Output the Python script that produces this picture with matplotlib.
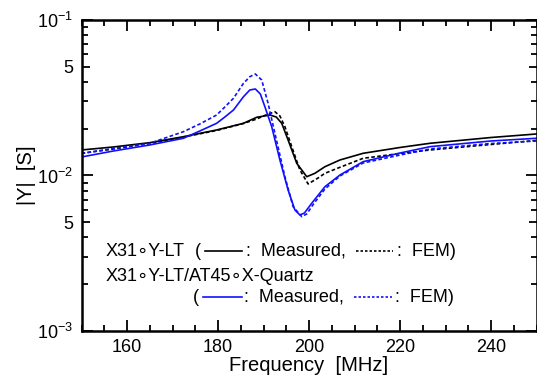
import numpy as np
import matplotlib
matplotlib.use("Agg")
import matplotlib.pyplot as plt
from matplotlib.ticker import FixedLocator, FixedFormatter

plt.rcParams["font.family"] = ["Liberation Sans", "DejaVu Sans"]
plt.rcParams["mathtext.fontset"] = "custom"
plt.rcParams["mathtext.rm"] = "Liberation Sans"
plt.rcParams["mathtext.it"] = "Liberation Sans:italic"

# |Y| (S)
freq_lt_meas = [150, 157, 165, 172.4, 179.7, 185.6, 188.5, 191.4, 192.8, 194, 195.4,
                197.3, 199.5, 201.3, 203.5, 206.8, 211.9, 220, 226.6, 240, 250]
y_lt_meas = [0.01459, 0.01525, 0.01626, 0.01776, 0.01962, 0.02166, 0.02367, 0.02449,
             0.02377, 0.02166, 0.01692, 0.01198, 0.00982, 0.01033, 0.01139, 0.01258,
             0.01389, 0.01514, 0.01611, 0.01755, 0.01849]

freq_lt_fem = [150, 157, 165, 172.4, 179.7, 185.6, 188.5, 190.5, 192.5, 193.6, 194.7,
               196.2, 198, 199.8, 202, 203.5, 206.8, 211.9, 220, 226.6, 240, 250]
y_lt_fem = [0.01389, 0.01480, 0.01606, 0.01768, 0.01947, 0.02160, 0.02308, 0.02449,
            0.02572, 0.02413, 0.02060, 0.01532, 0.01085, 0.00882, 0.00964, 0.01033,
            0.01129, 0.01290, 0.01385, 0.01459, 0.01583, 0.01680]

freq_q_meas = [150, 157, 165, 172.4, 176, 179.7, 181.5, 183.4, 185.6, 187, 188.2, 189.3,
               190.3, 191.8, 193.6, 195.4, 196.9, 198, 199, 200.6, 203.5, 206.8, 211.9,
               220, 226.6, 240, 250]
y_q_meas = [0.01315, 0.01437, 0.01571, 0.01735, 0.01932, 0.02166, 0.02377, 0.02637,
            0.03212, 0.03547, 0.03600, 0.03343, 0.02769, 0.02060, 0.01258, 0.00807,
            0.00600, 0.00557, 0.00574, 0.00663, 0.00847, 0.01007, 0.01227, 0.01395,
            0.01532, 0.01667, 0.01735]

freq_q_fem = [150, 157, 165, 172.4, 176, 179.7, 181.5, 183.4, 185.6, 187, 188.2, 189.6,
              191, 192.5, 194.7, 196.5, 198.4, 199.5, 201, 203.5, 206.8, 211.9, 220,
              226.6, 240, 250]
y_q_fem = [0.01385, 0.01491, 0.01611, 0.01913, 0.02144, 0.02449, 0.02757, 0.03137,
           0.03916, 0.04319, 0.04494, 0.04113, 0.02912, 0.01868, 0.00982, 0.00630,
           0.00543, 0.00566, 0.00656, 0.00819, 0.00993, 0.01203, 0.01354, 0.01480,
           0.01606, 0.01667]

x_ticks = [160, 180, 200, 220, 240]
y_major = [1e-3, 5e-3, 1e-2, 5e-2, 1e-1]
y_major_labels = [r"$\mathregular{10^{-3}}$", "5", r"$\mathregular{10^{-2}}$", "5",
                  r"$\mathregular{10^{-1}}$"]

fig = plt.figure(figsize=(5.37, 3.80), dpi=100)
ax = fig.add_axes([0.1518, 0.129, 0.8473, 0.8184])

lw = 1.2
dash = (0, (2.2, 1.4))
ax.plot(freq_lt_meas, y_lt_meas, color="black", lw=lw)
ax.plot(freq_lt_fem, y_lt_fem, color="black", lw=lw, linestyle=dash)
ax.plot(freq_q_meas, y_q_meas, color="#1010ff", lw=lw)
ax.plot(freq_q_fem, y_q_fem, color="#1010ff", lw=lw, linestyle=dash)

ax.set_yscale("log")
ax.set_xlim(150, 250)
ax.set_ylim(1e-3, 1e-1)

ax.xaxis.set_major_locator(FixedLocator(x_ticks))
ax.xaxis.set_minor_locator(FixedLocator(np.arange(150, 251, 5)))
ax.yaxis.set_major_locator(FixedLocator(y_major))
ax.yaxis.set_major_formatter(FixedFormatter(y_major_labels))
minors = [m * d for d in (1e-3, 1e-2) for m in (2, 3, 4, 6, 7, 8, 9)]
ax.yaxis.set_minor_locator(FixedLocator(minors))
ax.yaxis.set_minor_formatter(FixedFormatter([""] * len(minors)))

ax.tick_params(which="both", direction="in", top=True, right=True, width=1.3,
               labelsize=13)
ax.tick_params(which="major", length=8)
ax.tick_params(which="minor", length=4)
ax.tick_params(axis="x", pad=6)
ax.tick_params(axis="y", pad=6)
for t, v in zip(ax.yaxis.get_major_ticks(), y_major):
    if v in (5e-3, 5e-2):
        t.tick1line.set_markersize(5.5)
        t.tick2line.set_markersize(5.5)

for s in ax.spines.values():
    s.set_linewidth(1.8)

ax.set_xlabel("Frequency  [MHz]", fontsize=14.5, labelpad=0)
ax.set_ylabel("|Y|  [S]", fontsize=14.5, labelpad=1)

# legend written as text with small line samples
fs = 13
tr = ax.transAxes
ax.text(0.052, 0.256, "X31\u2218Y-LT", transform=tr, fontsize=fs, va="center")
ax.text(0.249, 0.256, "(", transform=tr, fontsize=fs, va="center")
ax.plot([0.271, 0.353], [0.256, 0.256], transform=tr, color="black", lw=lw)
ax.text(0.361, 0.256, ":  Measured,", transform=tr, fontsize=fs, va="center")
ax.plot([0.603, 0.685], [0.256, 0.256], transform=tr, color="black", lw=lw,
        linestyle=(0, (1.5, 1.2)))
ax.text(0.693, 0.256, ":  FEM)", transform=tr, fontsize=fs, va="center")

ax.text(0.052, 0.174, "X31\u2218Y-LT/AT45\u2218X-Quartz", transform=tr, fontsize=fs,
        va="center")
ax.text(0.245, 0.109, "(", transform=tr, fontsize=fs, va="center")
ax.plot([0.267, 0.353], [0.109, 0.109], transform=tr, color="#1010ff", lw=lw)
ax.text(0.358, 0.109, ":  Measured,", transform=tr, fontsize=fs, va="center")
ax.plot([0.599, 0.682], [0.109, 0.109], transform=tr, color="#1010ff", lw=lw,
        linestyle=(0, (1.5, 1.2)))
ax.text(0.689, 0.109, ":  FEM)", transform=tr, fontsize=fs, va="center")

fig.savefig("out.png", dpi=100)
